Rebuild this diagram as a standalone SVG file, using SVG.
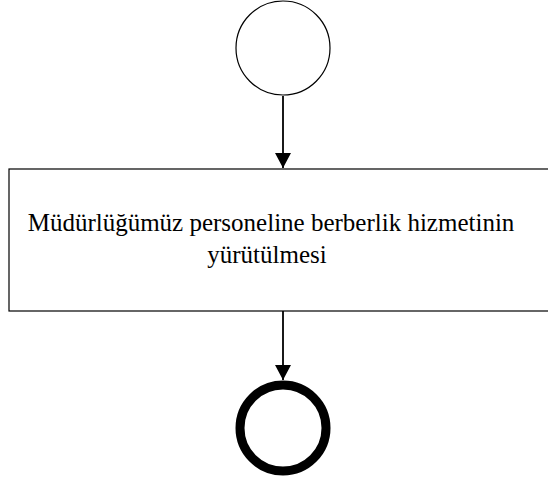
<svg xmlns="http://www.w3.org/2000/svg" width="548" height="483" viewBox="0 0 548 483">
<style>
.ln{stroke:#000;stroke-width:1.8;fill:none}
.t{font-family:'Liberation Serif','Times New Roman',Times,serif;font-size:25px;fill:#000;text-anchor:middle}
</style>
<defs>
<marker id="ah" markerWidth="15" markerHeight="16" refX="15" refY="8" orient="auto" markerUnits="userSpaceOnUse" viewBox="0 0 15 16">
<path d="M0,0 L15,8 L0,16 Z" fill="#000"/>
</marker>
</defs>
<rect width="548" height="483" fill="#fff"/>
<g id="start"><circle cx="283" cy="48" r="47" fill="#fff" stroke="#000" stroke-width="1.2"/></g>
<g id="task">
<rect x="9" y="169" width="560" height="142" fill="#fff" stroke="#000" stroke-width="1.2"/>
<text class="t" x="271" y="231">Müdürlüğümüz personeline berberlik hizmetinin</text>
<text class="t" x="267" y="263">yürütülmesi</text>
</g>
<g id="end"><circle cx="283" cy="428" r="43" fill="#fff" stroke="#000" stroke-width="9"/></g>
<g id="connectors">
<path d="M283 96 L283 168" class="ln" marker-end="url(#ah)"/>
<path d="M283 311 L283 380" class="ln" marker-end="url(#ah)"/>
</g>
</svg>
